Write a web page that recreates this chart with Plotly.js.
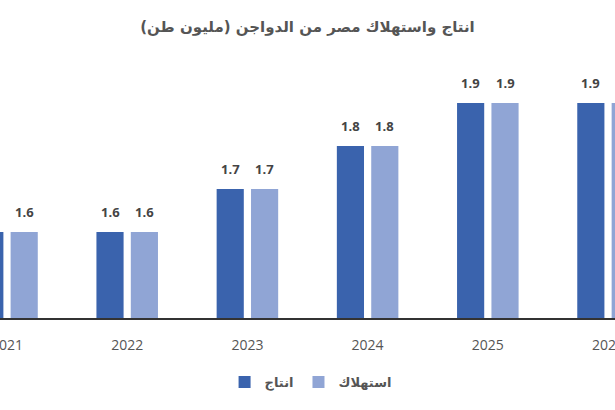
<!DOCTYPE html>
<html>
<head>
<meta charset="utf-8">
<script src="https://cdn.plot.ly/plotly-3.0.1.min.js"></script>
<style>html,body{margin:0;padding:0;background:#fff;}#chart{width:615px;height:410px;}</style>
</head>
<body>
<div id="chart"></div>
<script>
const years = ['2021', '2022', '2023', '2024', '2025', '2026'];
const production = [1.6, 1.6, 1.7, 1.8, 1.9, 1.9];
const consumption = [1.6, 1.6, 1.7, 1.8, 1.9, 1.9];
const seriesNames = ['انتاج', 'استهلاك'];
const titleText = 'انتاج واستهلاك مصر من الدواجن (مليون طن)';

const colors = ['#3A63AD', '#90A5D5'];
const barOffset = 0.143;
const series = [production, consumption];

const traces = series.map((vals, k) => ({
  type: 'bar',
  name: seriesNames[k],
  x: years,
  y: vals,
  marker: {color: colors[k]},
  hoverinfo: 'x+y'
}));

const annotations = [];
series.forEach((vals, k) => {
  vals.forEach((v, i) => {
    annotations.push({
      x: i + (k === 0 ? -barOffset : barOffset),
      y: v,
      xref: 'x', yref: 'y',
      text: v.toFixed(1),
      showarrow: false,
      yanchor: 'bottom',
      yshift: 9,
      font: {family: 'Open Sans', size: 13, color: '#444', weight: 700}
    });
  });
});

const layout = {
  width: 615, height: 410,
  margin: {l: 0, r: 0, t: 60, b: 92},
  paper_bgcolor: '#fff', plot_bgcolor: '#fff',
  title: {
    text: titleText,
    x: 0.5, xanchor: 'center',
    y: 0.934, yanchor: 'middle',
    font: {family: 'DejaVu Sans', size: 15, color: '#555', weight: 700}
  },
  barmode: 'group',
  bargap: 0.428,
  bargroupgap: 0.21,
  xaxis: {
    type: 'category',
    range: [-0.0582, 5.058],
    showline: true, linecolor: '#333', linewidth: 1.5,
    showgrid: false, zeroline: false,
    ticks: '',
    ticklabelstandoff: 14,
    tickfont: {family: 'Open Sans', size: 14, color: '#555'},
    fixedrange: true
  },
  yaxis: {
    range: [1.4, 2.0],
    visible: false,
    showgrid: false, zeroline: false,
    fixedrange: true
  },
  showlegend: true,
  legend: {
    orientation: 'h',
    x: 0.505, xanchor: 'center',
    y: -0.248, yanchor: 'middle',
    font: {family: 'DejaVu Sans', size: 13, color: '#555', weight: 700},
    itemclick: false
  },
  annotations: annotations
};

Plotly.newPlot('chart', traces, layout, {displayModeBar: false, staticPlot: true});
</script>
</body>
</html>
